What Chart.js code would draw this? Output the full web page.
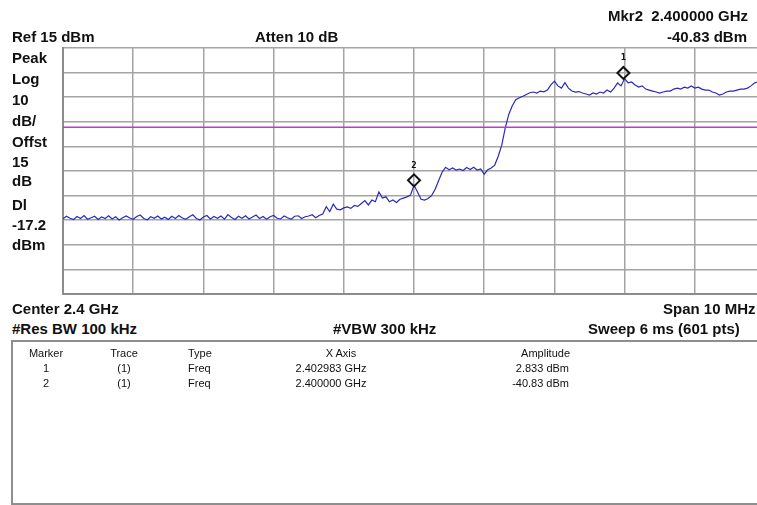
<!DOCTYPE html>
<html>
<head>
<meta charset="utf-8">
<script src="https://cdn.jsdelivr.net/npm/chart.js@4.4.1/dist/chart.umd.min.js"></script>
<style>
  html, body { margin: 0; padding: 0; background: #fff; overflow: hidden; width: 757px; height: 505px; }
  #wrap { position: relative; width: 757px; height: 505px; overflow: hidden; }
  #trace { position: absolute; left: 0; top: 0; }
  .t { position: absolute; font-family: "Liberation Sans", Arial, sans-serif; font-weight: bold; font-size: 15px; line-height: 18px; color: #111; white-space: nowrap; }
  #table { position: absolute; left: 11px; top: 340px; width: 800px; height: 161px; border: 2px solid #8e8e8e; }
  .c { position: absolute; font-family: "Liberation Sans", Arial, sans-serif; font-size: 11px; line-height: 13px; color: #111; white-space: nowrap; }
</style>
</head>
<body>
<div id="wrap">
  <canvas id="trace" width="800" height="310"></canvas>

  <div class="t" style="left:608px; top:7px;">Mkr2&nbsp; 2.400000 GHz</div>
  <div class="t" style="left:12px; top:28px;">Ref 15 dBm</div>
  <div class="t" style="left:255px; top:28px;">Atten 10 dB</div>
  <div class="t" style="left:667px; top:28px;">-40.83 dBm</div>

  <div class="t" style="left:12px; top:49px;">Peak</div>
  <div class="t" style="left:12px; top:70px;">Log</div>
  <div class="t" style="left:12px; top:91px;">10</div>
  <div class="t" style="left:12px; top:112px;">dB/</div>
  <div class="t" style="left:12px; top:133px;">Offst</div>
  <div class="t" style="left:12px; top:153px;">15</div>
  <div class="t" style="left:12px; top:172px;">dB</div>
  <div class="t" style="left:12px; top:196px;">Dl</div>
  <div class="t" style="left:12px; top:216px;">-17.2</div>
  <div class="t" style="left:12px; top:236px;">dBm</div>

  <div class="t" style="left:12px; top:300px;">Center 2.4 GHz</div>
  <div class="t" style="left:663px; top:300px;">Span 10 MHz</div>
  <div class="t" style="left:12px; top:320px;">#Res BW 100 kHz</div>
  <div class="t" style="left:333px; top:320px;">#VBW 300 kHz</div>
  <div class="t" style="left:588px; top:320px;">Sweep 6 ms (601 pts)</div>

  <div id="table"></div>
</div>

<script>
// sweep: 2395 .. 2405 MHz, trace read every 0.05 MHz (201 of the 601 points)
let sweepStartMHz = 2395;
let sweepStepMHz = 0.05;

let traceDbm = [
    -54.4, -53.4, -54.2, -54.7, -53.5, -54.3, -53.1, -54.6, -54.0, -53.4,
    -54.7, -53.7, -54.3, -53.2, -54.5, -53.6, -54.9, -54.0, -53.3, -54.1,
    -54.6, -53.5, -52.9, -54.3, -54.8, -53.6, -54.2, -53.3, -54.5, -53.8,
    -54.7, -53.4, -54.3, -53.1, -54.1, -54.6, -53.6, -52.8, -54.3, -54.9,
    -53.7, -53.1, -54.5, -53.5, -54.2, -53.3, -54.6, -52.7, -53.9, -54.7,
    -53.4, -54.2, -53.2, -54.5, -53.7, -52.9, -54.3, -53.5, -54.6, -53.6,
    -53.1, -54.2, -54.5, -53.3, -54.0, -54.6, -53.4, -53.2, -54.3, -53.6,
    -53.3, -52.8, -54.0, -53.1,
    -52.5, -49.5, -51.5, -48.5, -50.5, -50.8, -50.0, -49.6, -50.2, -49.0,
    -49.4, -48.2, -47.0, -48.8, -46.8, -47.5, -43.5, -46.0, -45.5, -47.5,
    -46.8, -47.8, -46.5, -46.0, -45.5, -44.8,
    -40.83,
    -43.5, -46.5, -46.8, -46.2, -45.0, -42.5, -39.0, -35.5, -33.5, -34.5,
    -33.8, -34.6, -34.2, -34.8, -33.6, -34.4, -33.5, -34.6, -34.2, -36.3,
    -34.5, -33.8, -32.6, -29.0, -24.5, -17.5, -12.0, -8.5, -6.0, -5.2,
    -4.6,
    -3.9, -3.2, -2.9, -3.3, -2.5, -2.8, -2.1, 0.0, 1.5, -0.4,
    -1.3, 0.9, -1.3, -2.5, -2.9, -2.7, -3.3, -3.7, -4.1, -3.3,
    -3.7, -2.9, -3.3, -2.1, -2.9, -1.3, 0.8, -0.4, 2.6, 0.8,
    1.2, 0.0, -0.9, -0.4, -1.7, -2.1, -2.5, -2.9, -3.3, -2.9,
    -2.5, -2.5, -1.7, -1.3, -1.7, -0.9, -1.3, -0.4, -1.3, -0.9,
    -1.7, -2.1, -2.1, -2.9, -3.3, -4.1, -3.7, -2.9, -2.5, -2.5,
    -2.1, -1.7, -1.7, -1.3, -0.4, 0.8, 1.2, 0.6, 0.2
];

let refLevel = 15;
let dbPerDiv = 10;
let displayLine = -17.2;

let markerNames = ["1", "2"];
let markerFreqMHz = [2402.983, 2400.000];
let markerDbm = [2.833, -40.83];

let tableHeaders = ["Marker", "Trace", "Type", "X Axis", "Amplitude"];
let tableRows = [
    ["1", "(1)", "Freq", "2.402983 GHz", "2.833 dBm"],
    ["2", "(1)", "Freq", "2.400000 GHz", "-40.83 dBm"]
];

let tracePoints = traceDbm.map((v, i) => ({ x: sweepStartMHz + i * sweepStepMHz, y: v }));
let markerPoints = markerFreqMHz.map((f, i) => ({ x: f, y: markerDbm[i] }));

// diamond markers with their number drawn above the trace point
const markerPlugin = {
    id: 'markerPlugin',
    afterDatasetsDraw(chart) {
        let ctx = chart.ctx;
        let xs = chart.scales.x;
        let ys = chart.scales.y;
        ctx.save();
        markerPoints.forEach((p, i) => {
            let px = xs.getPixelForValue(p.x);
            let py = ys.getPixelForValue(p.y);
            let cy = py - 5;
            ctx.beginPath();
            ctx.moveTo(px, cy - 6);
            ctx.lineTo(px + 6, cy);
            ctx.lineTo(px, cy + 6);
            ctx.lineTo(px - 6, cy);
            ctx.closePath();
            ctx.lineWidth = 2;
            ctx.strokeStyle = '#111';
            ctx.stroke();
            ctx.fillStyle = '#111';
            ctx.font = 'bold 9px "DejaVu Sans Mono", monospace';
            ctx.textAlign = 'center';
            ctx.textBaseline = 'middle';
            ctx.fillText(markerNames[i], px, py - 20);
        });
        ctx.restore();
    }
};

let ctx = document.getElementById('trace').getContext('2d');
let chart = new Chart(ctx, {
    type: 'line',
    data: {
        datasets: [
            {
                data: [{ x: sweepStartMHz, y: displayLine }, { x: sweepStartMHz + 200 * sweepStepMHz, y: displayLine }],
                borderColor: '#cc33cc',
                borderWidth: 1.5,
                pointRadius: 0
            },
            {
                data: tracePoints,
                borderColor: '#2a2abc',
                borderWidth: 1.2,
                pointRadius: 0,
                tension: 0
            }
        ]
    },
    options: {
        responsive: false,
        animation: false,
        layout: { padding: { left: 63, top: 48, right: 35, bottom: 16 } },
        plugins: { legend: { display: false }, tooltip: { enabled: false } },
        scales: {
            x: {
                type: 'linear',
                min: 2395,
                max: 2405,
                ticks: { display: false, stepSize: 1 },
                grid: { color: '#a4a4a4', lineWidth: 1.5, drawTicks: false },
                border: { color: '#8c8c8c', width: 2 }
            },
            y: {
                min: refLevel - 10 * dbPerDiv,
                max: refLevel,
                ticks: { display: false, stepSize: dbPerDiv },
                grid: { color: '#a4a4a4', lineWidth: 1.5, drawTicks: false },
                border: { color: '#8c8c8c', width: 2 }
            }
        }
    },
    plugins: [markerPlugin]
});

// marker table (positions inside the box)
let table = document.getElementById('table');
let headerX = [33, 111, 175, 328, 557];
let valueX = [33, 111, 175, 318, 556];
let colAlign = ['center', 'center', 'left', 'center', 'right'];
function addCell(text, col, x, top) {
    let d = document.createElement('div');
    d.className = 'c';
    d.textContent = text;
    d.style.top = top + 'px';
    if (colAlign[col] === 'left') {
        d.style.left = x + 'px';
    } else if (colAlign[col] === 'right') {
        d.style.right = (800 - x) + 'px';
    } else {
        d.style.left = (x - 60) + 'px';
        d.style.width = '120px';
        d.style.textAlign = 'center';
    }
    table.appendChild(d);
}
tableHeaders.forEach((h, c) => addCell(h, c, headerX[c], 5));
tableRows.forEach((row, r) => row.forEach((v, c) => addCell(v, c, valueX[c], 20 + r * 15)));
</script>
</body>
</html>
